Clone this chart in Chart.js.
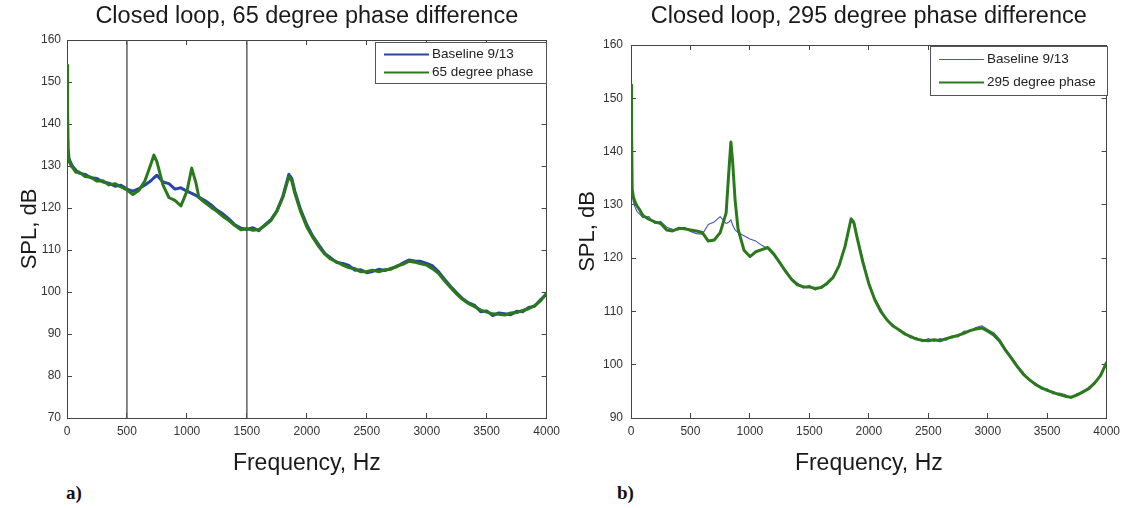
<!DOCTYPE html>
<html><head><meta charset="utf-8">
<script src="https://cdn.jsdelivr.net/npm/chart.js@4.4.1/dist/chart.umd.min.js"></script>
<style>
html,body{margin:0;padding:0;background:#fff;}
#wrap{position:relative;width:1123px;height:508px;overflow:hidden;background:#fff;}
#c1{position:absolute;left:0;top:0;width:571px;height:480px;}
#c2{position:absolute;left:560px;top:0;width:571px;height:480px;}
.lab{position:absolute;font-family:"Liberation Serif","DejaVu Serif",serif;font-weight:bold;font-size:19px;color:#111;line-height:22px;}
</style></head>
<body><div id="wrap">
<canvas id="c1" width="571" height="480"></canvas>
<canvas id="c2" width="571" height="480"></canvas>
<div class="lab" style="left:66px;top:482px;">a)</div>
<div class="lab" style="left:617px;top:482px;">b)</div>
</div>
<script>
// ---------- data ----------
const xTicks = [0,500,1000,1500,2000,2500,3000,3500,4000];
const yTicksA = [70,80,90,100,110,120,130,140,150,160];
const yTicksB = [90,100,110,120,130,140,150,160];
const markerFreqsA = [500,1500];

const freqA = [0,5,10,20,35,50,75,
 100,150,200,250,300,350,400,450,500,550,600,650,700,725,750,800,850,900,950,1000,
 1040,1075,
 1100,1150,1200,1250,1300,1350,1400,1450,1500,1550,1600,1650,1700,1750,1800,1850,
 1875,1900,1950,
 2000,2050,2100,2150,2200,2250,2300,2350,2400,2450,
 2500,2550,2600,2650,2700,2750,2800,2850,2900,2950,
 3000,3050,3100,3150,3200,3250,3300,3350,3400,3450,
 3500,3550,3600,3650,3700,3750,3800,3850,3900,3950,
 4000];
const baselineA = [136,133,132,131.5,130.5,129.8,129,
 128.3,128,127.2,127,126.2,125.9,125.2,125.4,124.5,124,124.6,125.5,126.5,127.2,127.8,126.2,125.8,124.5,124.8,124,
 123.5,123,
 122.6,121.8,120.8,119.5,118.6,117.4,116,115.2,114.9,115.3,114.6,116.0,117.2,119.3,122.8,128,
 127,124,119.5,
 116,113.3,111.2,109.2,108.1,107.0,106.8,106.3,105.2,105.3,
 104.6,104.9,105.4,105.1,105.6,106.0,106.9,107.6,107.4,107.3,
 106.8,106.2,104.8,103,101.3,99.8,98.4,97.4,96.8,95.3,
 95.5,94.4,95.0,94.8,94.6,95.4,95.3,96.3,96.6,98.2,
 99.5];
const phase65 = [154,143,134,131,130,129.5,128.5,
 128.6,127.5,127.3,126.4,126.5,125.5,125.8,125,124.3,123.2,124.2,126.5,130.5,132.6,131,125.5,122.5,121.8,120.5,124,
 129.5,126,
 122.5,121.3,120.2,119.2,118,117,115.8,114.8,115.1,114.7,114.9,115.8,117,119.2,122.5,127.5,
 126.4,123.5,119,
 115.5,113,110.8,109,107.8,107.2,106.4,105.8,105.6,104.8,
 104.9,105.2,104.8,105.3,105.4,106.2,106.6,107.3,107.1,106.7,
 106.4,105.5,104.4,102.6,101.0,99.5,98.2,97.2,96.5,95.7,
 95.2,94.8,94.7,94.5,95.0,95.1,95.6,96.0,96.8,97.9,
 99.8];

const freqB = [0,5,10,20,35,50,75,
 100,150,200,250,300,350,400,450,500,550,600,650,700,750,800,
 825,840,855,875,
 900,950,1000,1050,1100,1150,1200,1250,1300,1350,1400,1450,1500,1550,1600,1650,1700,1750,1800,1850,
 1875,1900,1950,
 2000,2050,2100,2150,2200,2250,2300,2350,2400,2450,
 2500,2550,2600,2650,2700,2750,2800,2850,2900,2950,
 3000,3050,3100,3150,3200,3250,3300,3350,3400,3450,
 3500,3550,3600,3650,3700,3750,3800,3850,3900,3950,
 4000];
const baselineB = [134,133,131.8,130.5,129.5,128.8,128.2,
 127.6,127.8,126.5,126.9,125.8,125.4,125.3,125.8,125.0,124.6,124.5,126.3,126.8,127.8,126.5,
 126.8,127.2,126.2,125.3,
 124.8,124.2,123.6,123.2,122.4,121.8,120.5,119.0,117.8,116.2,115.3,114.4,114.9,114.0,114.7,115.0,116.6,118.5,122.4,127.6,
 127,124.3,119.8,
 115.5,112.5,110.5,108.3,107.6,106.4,106.1,105.0,105.1,104.3,
 104.9,104.4,104.9,104.6,105.4,105.2,106.3,106.2,107.0,107.3,
 106.6,106.0,104.8,103.0,101.5,99.9,98.5,97.0,96.6,95.4,
 95.5,94.5,94.7,94.4,93.7,94.6,94.7,95.8,96.4,98.3,
 100.0];
const phase295 = [152.5,144,133,131.5,130.5,129.8,129,
 128,127.3,126.8,126.5,125.3,125.1,125.6,125.5,125.3,125.1,124.8,123.2,123.4,124.8,128.5,
 137,141.8,138,131,
 125.5,121.5,120.3,121.2,121.6,122,120.8,119.2,117.5,116,115,114.6,114.6,114.3,114.5,115.3,116.4,118.6,122.2,127.3,
 126.6,124,119.2,
 115.2,112.2,110,108.5,107.3,106.6,105.8,105.3,104.8,104.6,
 104.5,104.7,104.5,104.9,105.2,105.5,105.9,106.4,106.7,106.9,
 106.3,105.6,104.4,102.7,101.2,99.6,98.2,97.2,96.3,95.7,
 95.2,94.8,94.4,94.1,93.9,94.3,94.9,95.5,96.6,98.0,
 100.5];

// ---------- helpers ----------
const FONT = '"Liberation Sans", Arial, sans-serif';
const pts = (xs, ys) => xs.map((x, i) => ({x, y: ys[i]}));

const boxLegend = {
  id: 'boxLegend',
  afterDatasetsDraw(chart, args, o) {
    if (!o || !o.width) return;
    const ctx = chart.ctx, ca = chart.chartArea;
    const items = chart.data.datasets.filter(d => d.inLegend);
    const x0 = Math.round(ca.right - o.width - o.right), y0 = Math.round(ca.top + o.top);
    ctx.save();
    ctx.fillStyle = '#fff';
    ctx.fillRect(x0, y0, o.width, o.height);
    ctx.strokeStyle = '#555'; ctx.lineWidth = 1;
    ctx.strokeRect(x0 + 0.5, y0 + 0.5, o.width, o.height);
    ctx.font = o.font; ctx.textBaseline = 'middle'; ctx.textAlign = 'left';
    items.forEach((d, i) => {
      const yy = y0 + o.rows[i] + 0.5;
      ctx.strokeStyle = d.borderColor; ctx.lineWidth = d.legendWidth || d.borderWidth;
      ctx.beginPath(); ctx.moveTo(x0 + o.lineX0, yy); ctx.lineTo(x0 + o.lineX1, yy); ctx.stroke();
      ctx.fillStyle = '#222';
      ctx.fillText(d.label, x0 + o.textX, yy);
    });
    ctx.restore();
  }
};

function axisCommon(min, max, ticksArr, pos, extra) {
  return Object.assign({
    type: 'linear', position: pos, min, max,
    afterBuildTicks: s => { s.ticks = ticksArr.map(v => ({value: v})); },
    grid: {drawOnChartArea: false, tickLength: -5, color: '#444', lineWidth: 1},
    border: {color: '#444', width: 1},
  }, extra);
}

function makeChart(el, c) {
  return new Chart(el, {
    type: 'line',
    data: {datasets: c.datasets},
    plugins: [boxLegend],
    options: {
      responsive: false, animation: false,
      layout: {padding: 0},
      elements: {point: {radius: 0}, line: {tension: 0, borderJoinStyle: 'round'}},
      plugins: {
        legend: {display: false},
        tooltip: {enabled: false},
        title: {display: true, text: c.title, fullSize: false, color: '#1a1a1a',
          font: {family: FONT, size: 23.5, weight: 'normal', lineHeight: 1.2},
          padding: {top: c.titleTop, bottom: c.titleBottom}},
        boxLegend: c.legend
      },
      scales: {
        x: axisCommon(0, 4000, xTicks, 'bottom', {
          ticks: {color: '#333', padding: 11, font: {family: FONT, size: 12}, callback: v => String(v), maxRotation: 0, autoSkip: false},
          title: {display: true, text: 'Frequency, Hz', color: '#1a1a1a', font: {family: FONT, size: 23, lineHeight: 1.2}, padding: {top: 0, bottom: 3}},
          afterFit: s => { s.height = c.xH; }
        }),
        x2: axisCommon(0, 4000, xTicks, 'top', {
          ticks: {display: false}, afterFit: s => { s.height = 0; }
        }),
        y: axisCommon(c.yMin, c.yMax, c.yTicks, 'left', {
          ticks: {color: '#333', padding: c.yPad, font: {family: FONT, size: 12}, callback: v => String(v), autoSkip: false},
          title: {display: true, text: 'SPL, dB', color: '#1a1a1a', font: {family: FONT, size: 22, lineHeight: 1.2}, padding: {top: c.yTitlePad, bottom: 0}},
          afterFit: s => { s.width = c.yW; }
        }),
        y2: axisCommon(c.yMin, c.yMax, c.yTicks, 'right', {
          ticks: {display: false}, afterFit: s => { s.width = c.y2W; }
        })
      }
    }
  });
}

const GREEN = '#2a7a1c';

makeChart(document.getElementById('c1'), {
  title: 'Closed loop, 65 degree phase difference',
  titleTop: 2, titleBottom: 9.8,
  xH: 62, yW: 67, y2W: 14, yPad: 11, yTitlePad: 17,
  yMin: 70, yMax: 160, yTicks: yTicksA,
  legend: {width: 171, height: 41, right: 1, top: 2, rows: [12, 30], lineX0: 9, lineX1: 54, textX: 57, font: '13.5px ' + FONT},
  datasets: [
    {label: 'Baseline 9/13', data: pts(freqA, baselineA), borderColor: '#2c44a6', borderWidth: 3, order: 1, inLegend: true, legendWidth: 2, xAxisID: 'x', yAxisID: 'y'},
    {label: '65 degree phase', data: pts(freqA, phase65), borderColor: GREEN, borderWidth: 3, order: 0, inLegend: true, legendWidth: 2, xAxisID: 'x', yAxisID: 'y'},
    ...markerFreqsA.map(f => ({label: 'marker', data: [{x: f, y: 70}, {x: f, y: 160}], borderColor: '#555', borderWidth: 1.4, order: 2, xAxisID: 'x', yAxisID: 'y'}))
  ]
});

makeChart(document.getElementById('c2'), {
  title: 'Closed loop, 295 degree phase difference',
  titleTop: 2, titleBottom: 14.8,
  xH: 62, yW: 71, y2W: 17, yPad: 13, yTitlePad: 15,
  yMin: 90, yMax: 160, yTicks: yTicksB,
  legend: {width: 177, height: 49, right: 0, top: 1, rows: [13, 36], lineX0: 9, lineX1: 54, textX: 57, font: '13.5px ' + FONT},
  datasets: [
    {label: 'Baseline 9/13', data: pts(freqB, baselineB), borderColor: '#4b52b4', borderWidth: 1.1, order: 1, inLegend: true, legendWidth: 1.2, xAxisID: 'x', yAxisID: 'y'},
    {label: '295 degree phase', data: pts(freqB, phase295), borderColor: GREEN, borderWidth: 3, order: 0, inLegend: true, legendWidth: 2, xAxisID: 'x', yAxisID: 'y'}
  ]
});
</script>
</body></html>
